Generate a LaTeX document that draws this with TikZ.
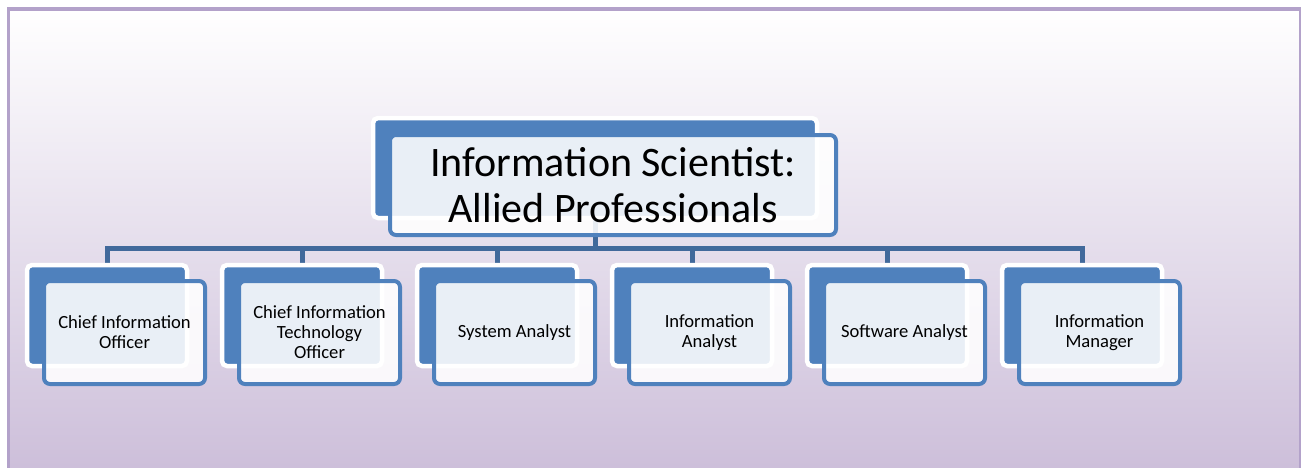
\documentclass[tikz,border=0pt]{standalone}
\usepackage{fontspec}
\setmainfont{Carlito}
\definecolor{accent}{HTML}{4F81BD}
\definecolor{connblue}{HTML}{41699B}
\definecolor{frameline}{HTML}{B3A2CA}
\definecolor{lavender}{HTML}{CDBFDA}
\pgfdeclarelayer{bg}
\pgfdeclarelayer{lines}
\pgfsetlayers{bg,lines,main}
\begin{document}
\begin{tikzpicture}[x=1pt,y=1pt,
  backbox/.style={fill=accent, draw=white, line width=4.5pt, rounded corners=5pt, inner sep=0pt},
  frontbox/.style={fill=white, fill opacity=0.88, text opacity=1, draw=accent, line width=4pt,
                   rounded corners=6pt, inner sep=0pt, align=center, text=black},
  topback/.style={backbox, minimum width=444pt, minimum height=100pt},
  topfront/.style={frontbox, minimum width=446pt, minimum height=100pt,
                   font=\fontsize{42}{46.5}\selectfont},
  childback/.style={backbox, minimum width=160pt, minimum height=101pt},
  childfront/.style={frontbox, minimum width=161pt, minimum height=103pt,
                     font=\fontsize{18.6}{20}\selectfont},
  conn/.style={draw=connblue, line width=5pt, line join=miter}]
\useasboundingbox (0,0) rectangle (1301,-467);

% page background and frame
\begin{pgfonlayer}{bg}
  \shade[top color=white, bottom color=lavender] (8,-9) rectangle (1300.5,-467);
  \draw[frameline, line width=3.2pt] (8.5,-480) |- (1300.5,-9) -- (1300.5,-480);
\end{pgfonlayer}

% root
\node[topback] (topback) at (595,-168) {};
\node[topfront] (top) at (613,-185) {Information Scientist:\\Allied Professionals};

\coordinate (bar) at (0,-248);

% children
\foreach \i/\txt [count=\n] in {
    0/{Chief Information\\Officer},
    1/{Chief Information\\Technology\\Officer},
    2/{System Analyst},
    3/{Information\\Analyst},
    4/{Software Analyst},
    5/{Information\\Manager}} {
  \node[childback] (b\n) at ({107+195*\i},-315.5) {};
  \node[childfront] (f\n) at ({124.5+195*\i},-332.5) {\txt};
  \begin{pgfonlayer}{lines}
    \draw[conn] (topback.south) -- (topback.south |- bar) -| (b\n.north);
  \end{pgfonlayer}
}
\end{tikzpicture}
\end{document}
